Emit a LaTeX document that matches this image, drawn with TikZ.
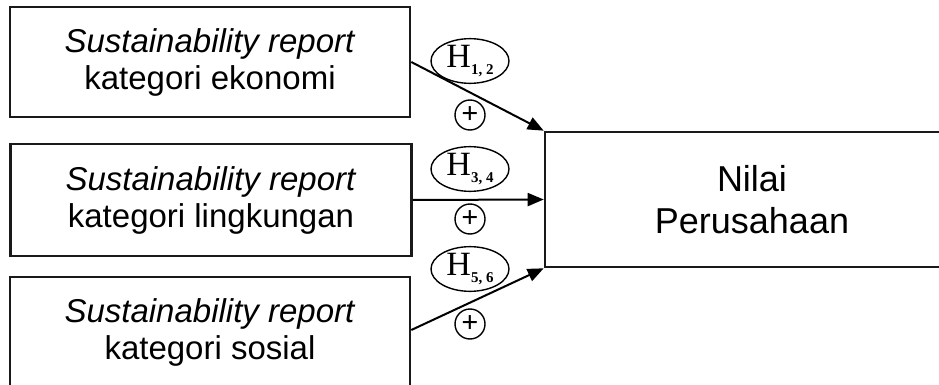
\documentclass[tikz,border=0pt]{standalone}
\usepackage{fontspec}
\setmainfont{Liberation Sans}
\newfontfamily\hserif{Liberation Serif}
\usetikzlibrary{arrows.meta,shapes.geometric}
\begin{document}
\begin{tikzpicture}[x=1pt,y=-1pt,
  boxstyle/.style={draw=black!90, line width=2.6pt, rectangle, inner sep=0pt, align=center,
    font=\fontsize{33}{37}\selectfont},
  hyp/.style={draw, line width=1.4pt, ellipse, inner sep=0pt, minimum width=78pt, minimum height=34pt},
  sign/.style={draw, line width=1.4pt, circle, inner sep=0pt, minimum size=30pt,
    font=\hserif\bfseries\fontsize{30}{30}\selectfont},
  conn/.style={line width=2pt, -{Triangle[length=16pt,width=13pt]}}]
\useasboundingbox (0,0) rectangle (939,385);
\node[boxstyle, minimum width=400pt, minimum height=110pt] (b1) at (210,62)
  {\textit{Sustainability report}\\kategori ekonomi};
\node[boxstyle, minimum width=401pt, minimum height=112pt] (b2) at (211,200)
  {\textit{Sustainability report}\\kategori lingkungan};
\node[boxstyle, minimum width=400pt, minimum height=110pt] (b3) at (210,332)
  {\textit{Sustainability report}\\kategori sosial};
\node[boxstyle, minimum width=414pt, minimum height=135pt,
  font=\fontsize{36}{42}\selectfont] (nv) at (752,199.5) {Nilai\\Perusahaan};
\draw[conn] (b1.east) -- (nv.north west);
\draw[conn] (b2.east) -- (nv.west);
\draw[conn] (b3.east |- 0,330) coordinate (s3) -- (nv.south west);
\node[hyp] (h1) at (470,61) {\hserif\fontsize{34}{34}\selectfont H\raisebox{-7pt}{\fontsize{15}{15}\selectfont\bfseries 1, 2}};
\node[hyp] (h2) at (470,169) {\hserif\fontsize{34}{34}\selectfont H\raisebox{-7pt}{\fontsize{15}{15}\selectfont\bfseries 3, 4}};
\node[hyp] (h3) at (470,269) {\hserif\fontsize{34}{34}\selectfont H\raisebox{-7pt}{\fontsize{15}{15}\selectfont\bfseries 5, 6}};
\node[sign] (p1) at (470,115) {+};
\node[sign] (p2) at (470,219) {+};
\node[sign] (p3) at (470,324) {+};
\end{tikzpicture}
\end{document}
